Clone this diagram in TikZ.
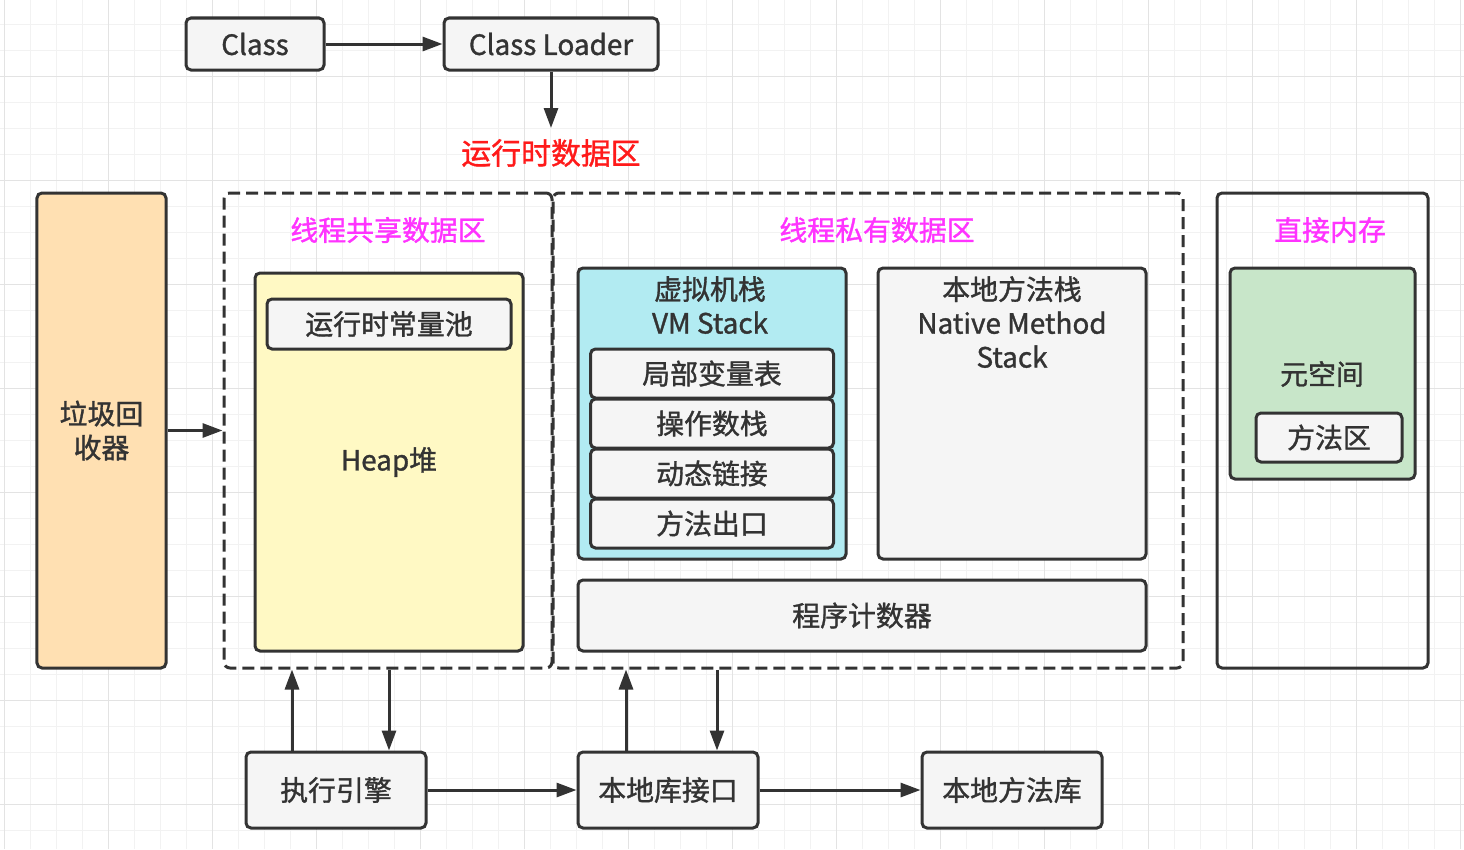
\documentclass[tikz,border=0pt]{standalone}
\usepackage{fontspec}
\setmainfont{Noto Sans CJK SC}[FakeBold=1.2]
\usetikzlibrary{arrows.meta}
\definecolor{ln}{HTML}{333333}
\definecolor{peach}{HTML}{FFE0B2}
\definecolor{heapy}{HTML}{FFF9C4}
\definecolor{vmc}{HTML}{B2EBF2}
\definecolor{metag}{HTML}{C8E6C9}
\definecolor{grayf}{HTML}{F5F5F5}
\definecolor{magt}{HTML}{FF33FF}
\definecolor{redt}{HTML}{FF1A1A}
\definecolor{gminor}{HTML}{F2F2F2}
\definecolor{gmajor}{HTML}{E3E3E3}
\tikzset{
  box/.style={draw=ln, line width=3bp, rounded corners=5bp, inner sep=0pt, text=ln,
    font=\fontsize{28}{34}\selectfont, align=center},
  dbox/.style={draw=ln, line width=3bp, dash pattern=on 12bp off 6bp, rounded corners=6bp, inner sep=0pt},
  arr/.style={draw=ln, line width=3bp, -{Triangle[length=20bp,width=14bp]}},
  lbl/.style={text=ln, font=\fontsize{28}{34}\selectfont, align=center, inner sep=0pt},
  ttl/.style={text=magt, font=\fontsize{28}{34}\selectfont, inner sep=0pt},
}
\begin{document}
\begin{tikzpicture}[x=1bp,y=-1bp]
\useasboundingbox (0,0) rectangle (1464,849);
\fill[white] (0,0) rectangle (1464,849);
% grid
\foreach \i in {0,...,56} \draw[gminor, line width=1bp] ({4.7+26*\i},0) -- ({4.7+26*\i},849);
\foreach \i in {0,...,33} \draw[gminor, line width=1bp] (0,{-2+26*\i}) -- (1464,{-2+26*\i});
\foreach \i in {0,...,14} \draw[gmajor, line width=1bp] ({4.7+104*\i},0) -- ({4.7+104*\i},849);
\foreach \i in {0,...,8} \draw[gmajor, line width=1bp] (0,{-28+104*\i}) -- (1464,{-28+104*\i});

% top
\node[box, fill=grayf, minimum width=138bp, minimum height=52bp] (class) at (255,44) {Class};
\node[box, fill=grayf, minimum width=214bp, minimum height=52bp] (loader) at (551,44) {Class Loader};
\node[text=redt, font=\fontsize{30}{36}\selectfont, inner sep=0pt] (rtitle) at (551,153) {运行时数据区};
\coordinate (rtin) at (551,128);
\draw[arr] (class) -- (loader);
\draw[arr] (loader.south) -- (rtin);

% GC
\node[box, fill=peach, minimum width=129bp, minimum height=475bp] (gc) at (101.5,430.5) {垃圾回\\收器};

% dashed regions
\node[dbox, minimum width=328bp, minimum height=475bp] (shared) at (388,430.5) {};
\node[dbox, minimum width=630bp, minimum height=475bp] (private) at (868,430.5) {};
\node[ttl] (sharedt) at (388,230) {线程共享数据区};
\node[ttl] (privatet) at (877,230) {线程私有数据区};
\draw[arr] (gc.east) -- (shared.west);

% heap
\node[box, fill=heapy, minimum width=268bp, minimum height=378bp] (heap) at (389,462) {Heap堆};
\node[box, fill=grayf, minimum width=244bp, minimum height=50bp] (pool) at (389,324) {运行时常量池};

% VM stack
\node[box, fill=vmc, minimum width=268bp, minimum height=291bp] (vm) at (712,413.5) {};
\node[lbl, anchor=north] (vmt) at (710,276) {虚拟机栈\\VM Stack};
\node[box, fill=grayf, minimum width=243bp, minimum height=49bp] (lv) at (712,373.5) {局部变量表};
\node[box, fill=grayf, minimum width=243bp, minimum height=49bp] (os) at (712,423.5) {操作数栈};
\node[box, fill=grayf, minimum width=243bp, minimum height=49bp] (dl) at (712,473.5) {动态链接};
\node[box, fill=grayf, minimum width=243bp, minimum height=49bp] (mx) at (712,523.5) {方法出口};

% native method stack
\node[box, fill=grayf, minimum width=268bp, minimum height=291bp] (nms) at (1012,413.5) {};
\node[lbl, anchor=north] (nmst) at (1012,276) {本地方法栈\\Native Method\\Stack};

% program counter
\node[box, fill=grayf, minimum width=568bp, minimum height=71bp] (pc) at (862,615.5) {程序计数器};

% direct memory
\node[box, minimum width=211bp, minimum height=475bp] (direct) at (1322.5,430.5) {};
\node[ttl] (directt) at (1330,230) {直接内存};
\node[box, fill=metag, minimum width=185bp, minimum height=211bp] (meta) at (1322.5,373.5) {};
\node[lbl] (metat) at (1322,374) {元空间};
\node[box, fill=grayf, minimum width=146bp, minimum height=49bp] (ma) at (1329,437.5) {方法区};

% bottom
\node[box, fill=grayf, minimum width=180bp, minimum height=76bp] (exec) at (336,790) {执行引擎};
\node[box, fill=grayf, minimum width=180bp, minimum height=76bp] (nli) at (668,790) {本地库接口};
\node[box, fill=grayf, minimum width=180bp, minimum height=76bp] (nml) at (1012,790) {本地方法库};

\draw[arr] ([xshift=-44bp]exec.north) -- ([xshift=-44bp]exec.north |- shared.south);
\draw[arr] ([xshift=53bp]exec.north |- shared.south) -- ([xshift=53bp]exec.north);
\draw[arr] ([xshift=-42bp]nli.north) -- ([xshift=-42bp]nli.north |- private.south);
\draw[arr] ([xshift=49bp]nli.north |- private.south) -- ([xshift=49bp]nli.north);
\draw[arr] (exec.east) -- (nli.west);
\draw[arr] (nli.east) -- (nml.west);
\end{tikzpicture}
\end{document}
